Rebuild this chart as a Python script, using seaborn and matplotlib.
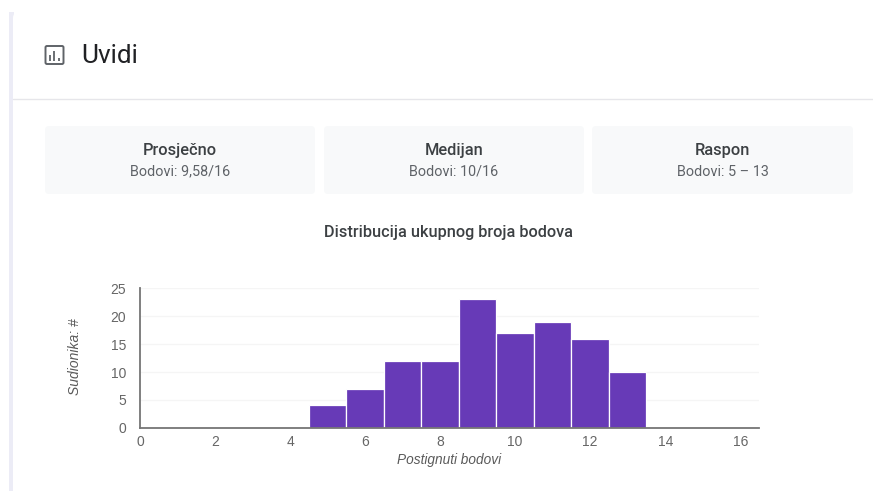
import matplotlib
matplotlib.use('Agg')
import matplotlib.pyplot as plt
from matplotlib.patches import FancyBboxPatch, Rectangle
import pandas as pd
import seaborn as sns

W, H = 873, 491

# podaci s grafa
bodovi = [5, 6, 7, 8, 9, 10, 11, 12, 13]
sudionika = [4, 7, 12, 12, 23, 17, 19, 16, 10]
x_ticks = [0, 2, 4, 6, 8, 10, 12, 14, 16]
y_ticks = [0, 5, 10, 15, 20, 25]

naslov = 'Uvidi'
naslov_grafa = 'Distribucija ukupnog broja bodova'
kartice = [('Prosječno', 'Bodovi: 9,58/16'),
           ('Medijan', 'Bodovi: 10/16'),
           ('Raspon', 'Bodovi: 5 – 13')]
kartice_x = [(45, 315), (324, 584), (592, 853)]

sns.set_theme(style='white')
plt.rcParams['font.family'] = ['Roboto', 'DejaVu Sans']

fig = plt.figure(figsize=(W / 100, H / 100), dpi=100, facecolor='white')

# pozadina u pikselima
bg = fig.add_axes([0, 0, 1, 1])
bg.set_xlim(0, W)
bg.set_ylim(H, 0)
bg.axis('off')

bg.add_patch(Rectangle((9, 12), 5, H - 12, fc='#ececf6', ec='none'))
bg.add_patch(FancyBboxPatch((13, 12), W, H, boxstyle='round,pad=0,rounding_size=6',
                            fc='white', ec='none'))
bg.plot([13, W], [98.5, 98.5], color='#e6e6ea', lw=1)

# ikona
bg.add_patch(FancyBboxPatch((45.5, 46), 18, 18, boxstyle='round,pad=0,rounding_size=1.5',
                            fc='none', ec='#5f6368', lw=1.4))
for ix, iy in [(49.5, 55), (54, 50.5), (58.5, 58)]:
    bg.plot([ix, ix], [iy, 60.5], color='#5f6368', lw=1.3, solid_capstyle='butt')

bg.text(81.5, 56, naslov, fontsize=18.8, color='#202124', va='center', ha='left')

for (x0, x1), (gore, dolje) in zip(kartice_x, kartice):
    bg.add_patch(FancyBboxPatch((x0, 126), x1 - x0, 68, boxstyle='round,pad=0,rounding_size=4',
                                fc='#f8f9fa', ec='none'))
    xc = (x0 + x1) / 2
    bg.text(xc, 150.5, gore, fontsize=11.8, fontweight='medium', color='#3c4043',
            ha='center', va='center')
    bg.text(xc, 171.5, dolje, fontsize=10.4, color='#5f6368', ha='center', va='center')

bg.text(449, 232, naslov_grafa, fontsize=11.7, fontweight='medium', color='#3c4043',
        ha='center', va='center')

# graf
left, right, top, bottom = 140, 759, 288.3, 427.8
ax = fig.add_axes([left / W, 1 - bottom / H, (right - left) / W, (bottom - top) / H])
ax.patch.set_alpha(0)

df = pd.DataFrame({'bodovi': bodovi, 'sudionika': sudionika})
sns.histplot(data=df, x='bodovi', weights='sudionika', discrete=True, color='#673ab7',
             alpha=1, edgecolor='white', linewidth=0.9, ax=ax, zorder=3)

ax.set_xlim(0, 16.5)
ax.set_ylim(0, 25)
ax.set_xticks(x_ticks)
ax.set_yticks(y_ticks)
ax.grid(axis='y', color='#f5f5f5', lw=1)
ax.set_axisbelow(True)
for s in ['top', 'right']:
    ax.spines[s].set_visible(False)
for s in ['left', 'bottom']:
    ax.spines[s].set_color('#757575')
    ax.spines[s].set_linewidth(1.3)
    ax.spines[s].set_zorder(4)
ax.tick_params(axis='x', length=0, labelcolor='#666666', pad=5)
ax.tick_params(axis='y', length=0, labelcolor='#666666', pad=10)
for t in ax.get_xticklabels() + ax.get_yticklabels():
    t.set_fontfamily(['Liberation Sans', 'DejaVu Sans'])
    t.set_fontsize(10)
ax.set_xlabel('')
ax.set_ylabel('')

# natpisi osi
bg.text(449.5, 460, 'Postignuti bodovi', fontsize=9.8, style='italic', color='#5a5a5a',
        ha='center', va='center', family=['Liberation Sans', 'DejaVu Sans'])
bg.text(75, 357, 'Sudionika: #', fontsize=10, style='italic', color='#5a5a5a', rotation=90,
        ha='center', va='center', family=['Liberation Sans', 'DejaVu Sans'])

fig.savefig('out.png', dpi=100)
